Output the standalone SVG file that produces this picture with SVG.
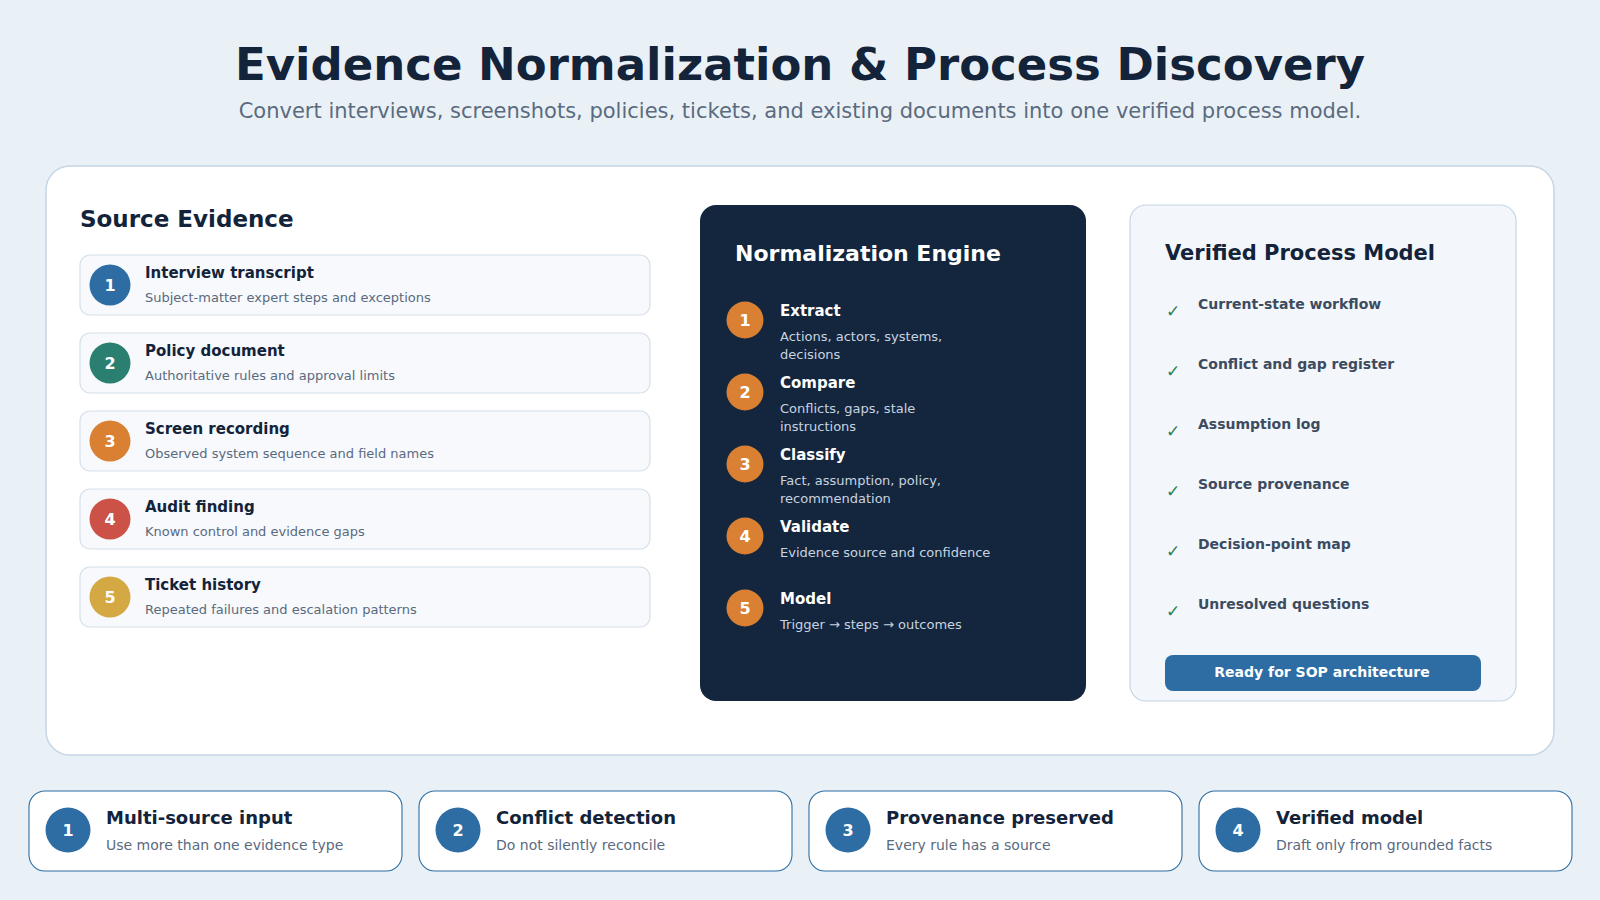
<svg xmlns="http://www.w3.org/2000/svg" width="1600" height="900" viewBox="0 0 1600 900">
<style>
text{font-family:"DejaVu Sans","Liberation Sans",sans-serif}
.title{font-size:45px;font-weight:bold;fill:#13233a}
.sub{font-size:21px;fill:#5a6b80}
.h2{font-size:22px;font-weight:bold;fill:#13233a}
.card{fill:#f7f9fc;stroke:#d5e0ea;stroke-width:1.2}
.ct{font-size:15px;font-weight:bold;fill:#13233a}
.cd{font-size:13px;fill:#5a6a7e}
.num{font-size:16px;font-weight:bold;fill:#ffffff;text-anchor:middle}
.st{font-size:15px;font-weight:bold;fill:#ffffff}
.sd{font-size:13px;fill:#c8d3e0}
.chk{font-size:17px;fill:#2a7f55}
.it{font-size:14px;font-weight:bold;fill:#3d4b60}
.bc{fill:#ffffff;stroke:#2d6da3;stroke-width:1.1}
.bt{font-size:18px;font-weight:bold;fill:#13233a}
.bd{font-size:14px;fill:#5a6a7e}
</style>
<rect width="1600" height="900" fill="#eaf1f6"/>
<g id="header">
<text class="title" x="800" y="80" text-anchor="middle">Evidence Normalization &amp; Process Discovery</text>
<text class="sub" x="800" y="118" text-anchor="middle">Convert interviews, screenshots, policies, tickets, and existing documents into one verified process model.</text>
</g>
<rect id="main-panel" x="46" y="166" width="1508" height="589" rx="24" fill="#ffffff" stroke="#c5d6e6" stroke-width="1.5"/>
<g id="source-evidence">
<text class="h2" x="80" y="227" style="font-size:23px">Source Evidence</text>
<g id="src1"><rect class="card" x="80" y="255" width="570" height="60" rx="10"/><circle cx="110" cy="285" r="20.5" fill="#2d6da3"/><text class="num" x="110" y="291">1</text><text class="ct" x="145" y="278">Interview transcript</text><text class="cd" x="145" y="302">Subject-matter expert steps and exceptions</text></g>
<g id="src2"><rect class="card" x="80" y="333" width="570" height="60" rx="10"/><circle cx="110" cy="363" r="20.5" fill="#2a7f71"/><text class="num" x="110" y="369">2</text><text class="ct" x="145" y="356">Policy document</text><text class="cd" x="145" y="380">Authoritative rules and approval limits</text></g>
<g id="src3"><rect class="card" x="80" y="411" width="570" height="60" rx="10"/><circle cx="110" cy="441" r="20.5" fill="#d98033"/><text class="num" x="110" y="447">3</text><text class="ct" x="145" y="434">Screen recording</text><text class="cd" x="145" y="458">Observed system sequence and field names</text></g>
<g id="src4"><rect class="card" x="80" y="489" width="570" height="60" rx="10"/><circle cx="110" cy="519" r="20.5" fill="#cc5247"/><text class="num" x="110" y="525">4</text><text class="ct" x="145" y="512">Audit finding</text><text class="cd" x="145" y="536">Known control and evidence gaps</text></g>
<g id="src5"><rect class="card" x="80" y="567" width="570" height="60" rx="10"/><circle cx="110" cy="597" r="20.5" fill="#d4a843"/><text class="num" x="110" y="603">5</text><text class="ct" x="145" y="590">Ticket history</text><text class="cd" x="145" y="614">Repeated failures and escalation patterns</text></g>
</g>
<g id="engine">
<rect x="700" y="205" width="386" height="496" rx="16" fill="#13263d"/>
<text class="h2" x="735" y="261" style="fill:#ffffff">Normalization Engine</text>
<g id="step1"><circle cx="745" cy="320" r="18.5" fill="#d98033"/><text class="num" x="745" y="326">1</text><text class="st" x="780" y="316">Extract</text><text class="sd" x="780" y="341">Actions, actors, systems,</text><text class="sd" x="780" y="359">decisions</text></g>
<g id="step2"><circle cx="745" cy="392" r="18.5" fill="#d98033"/><text class="num" x="745" y="398">2</text><text class="st" x="780" y="388">Compare</text><text class="sd" x="780" y="413">Conflicts, gaps, stale</text><text class="sd" x="780" y="431">instructions</text></g>
<g id="step3"><circle cx="745" cy="464" r="18.5" fill="#d98033"/><text class="num" x="745" y="470">3</text><text class="st" x="780" y="460">Classify</text><text class="sd" x="780" y="485">Fact, assumption, policy,</text><text class="sd" x="780" y="503">recommendation</text></g>
<g id="step4"><circle cx="745" cy="536" r="18.5" fill="#d98033"/><text class="num" x="745" y="542">4</text><text class="st" x="780" y="532">Validate</text><text class="sd" x="780" y="557">Evidence source and confidence</text></g>
<g id="step5"><circle cx="745" cy="608" r="18.5" fill="#d98033"/><text class="num" x="745" y="614">5</text><text class="st" x="780" y="604">Model</text><text class="sd" x="780" y="629">Trigger → steps → outcomes</text></g>
</g>
<g id="verified">
<rect x="1130" y="205" width="386" height="496" rx="16" fill="#f3f7fb" stroke="#c5d6e6" stroke-width="1.2"/>
<text class="h2" x="1165" y="260" style="font-size:21px">Verified Process Model</text>
<text class="chk" x="1166" y="317">✓</text><text class="it" x="1198" y="309">Current-state workflow</text>
<text class="chk" x="1166" y="377">✓</text><text class="it" x="1198" y="369">Conflict and gap register</text>
<text class="chk" x="1166" y="437">✓</text><text class="it" x="1198" y="429">Assumption log</text>
<text class="chk" x="1166" y="497">✓</text><text class="it" x="1198" y="489">Source provenance</text>
<text class="chk" x="1166" y="557">✓</text><text class="it" x="1198" y="549">Decision-point map</text>
<text class="chk" x="1166" y="617">✓</text><text class="it" x="1198" y="609">Unresolved questions</text>
<rect x="1165" y="655" width="316" height="36" rx="8" fill="#2d6da3"/>
<text x="1322" y="677" text-anchor="middle" style="font-size:14px;font-weight:bold;fill:#ffffff">Ready for SOP architecture</text>
</g>
<g id="bottom">
<g id="b1"><rect class="bc" x="29" y="791" width="373" height="80" rx="16"/><circle cx="68" cy="830" r="22.5" fill="#2d6da3"/><text class="num" x="68" y="836">1</text><text class="bt" x="106" y="824">Multi-source input</text><text class="bd" x="106" y="850">Use more than one evidence type</text></g>
<g id="b2"><rect class="bc" x="419" y="791" width="373" height="80" rx="16"/><circle cx="458" cy="830" r="22.5" fill="#2d6da3"/><text class="num" x="458" y="836">2</text><text class="bt" x="496" y="824">Conflict detection</text><text class="bd" x="496" y="850">Do not silently reconcile</text></g>
<g id="b3"><rect class="bc" x="809" y="791" width="373" height="80" rx="16"/><circle cx="848" cy="830" r="22.5" fill="#2d6da3"/><text class="num" x="848" y="836">3</text><text class="bt" x="886" y="824">Provenance preserved</text><text class="bd" x="886" y="850">Every rule has a source</text></g>
<g id="b4"><rect class="bc" x="1199" y="791" width="373" height="80" rx="16"/><circle cx="1238" cy="830" r="22.5" fill="#2d6da3"/><text class="num" x="1238" y="836">4</text><text class="bt" x="1276" y="824">Verified model</text><text class="bd" x="1276" y="850">Draft only from grounded facts</text></g>
</g>
<g id="connectors"></g>
</svg>
